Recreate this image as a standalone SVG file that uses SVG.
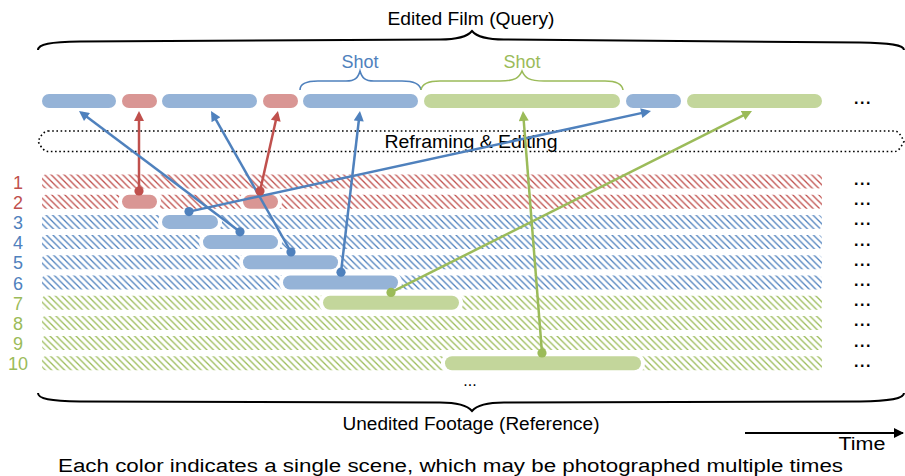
<svg xmlns="http://www.w3.org/2000/svg" width="905" height="476" viewBox="0 0 905 476">
<style>
text{font-family:"Liberation Sans","DejaVu Sans",sans-serif;}
.t{font-size:18px;fill:#000;text-anchor:middle;}
.lab{font-size:18px;text-anchor:middle;}
.dots{font-size:16px;font-weight:bold;fill:#000;text-anchor:middle;letter-spacing:1.5px;}
.red{fill:#C0504D;} .blue{fill:#4F81BD;} .green{fill:#9BBB59;}
.hr{fill:url(#hatchR);} .hb{fill:url(#hatchB);} .hg{fill:url(#hatchG);}
.pr{fill:#D99694;} .pb{fill:#95B3D7;} .pg{fill:#C3D69B;}
.pill{stroke:#fff;stroke-width:8;paint-order:stroke;}
.brace{fill:none;stroke:#000;stroke-width:2;}
.cr{stroke:#C0504D;stroke-width:2.5;fill:none;}
.cb{stroke:#4F81BD;stroke-width:2.5;fill:none;}
.cg{stroke:#9BBB59;stroke-width:2.5;fill:none;}
</style>
<defs>
<pattern id="hatchR" width="6.5" height="6.5" patternUnits="userSpaceOnUse"><path d="M0,0 L6.5,6.5 M-1,5.5 L1,7.5 M5.5,-1 L7.5,1" stroke="#C0504D" stroke-width="1.3"/></pattern>
<pattern id="hatchB" width="6.5" height="6.5" patternUnits="userSpaceOnUse"><path d="M0,0 L6.5,6.5 M-1,5.5 L1,7.5 M5.5,-1 L7.5,1" stroke="#4F81BD" stroke-width="1.3"/></pattern>
<pattern id="hatchG" width="6.5" height="6.5" patternUnits="userSpaceOnUse"><path d="M0,0 L6.5,6.5 M-1,5.5 L1,7.5 M5.5,-1 L7.5,1" stroke="#9BBB59" stroke-width="1.3"/></pattern>
<marker id="aR" viewBox="0 0 10 10" refX="7" refY="5" markerWidth="11" markerHeight="10" markerUnits="userSpaceOnUse" orient="auto"><path d="M0,0 L10,5 L0,10 Z" fill="#C0504D"/></marker>
<marker id="aB" viewBox="0 0 10 10" refX="7" refY="5" markerWidth="11" markerHeight="10" markerUnits="userSpaceOnUse" orient="auto"><path d="M0,0 L10,5 L0,10 Z" fill="#4F81BD"/></marker>
<marker id="aG" viewBox="0 0 10 10" refX="7" refY="5" markerWidth="11" markerHeight="10" markerUnits="userSpaceOnUse" orient="auto"><path d="M0,0 L10,5 L0,10 Z" fill="#9BBB59"/></marker>
<marker id="aK" viewBox="0 0 10 10" refX="9" refY="5" markerWidth="10" markerHeight="10" markerUnits="userSpaceOnUse" orient="auto"><path d="M0,0 L10,5 L0,10 Z" fill="#000"/></marker>
</defs>

<!-- Edited film -->
<g id="edited-film">
<text class="t" x="471" y="25" textLength="167" lengthAdjust="spacingAndGlyphs">Edited Film (Query)</text>
<path class="brace" d="M38,50 C38,44 50,42 80,41.5 L440,39.5 C458,39.5 467,37 472,31 C477,37 486,39.5 504,39.5 L860,42.5 C890,43 904,45 904,50"/>
</g>

<g id="shot-blue">
<text class="t" x="360" y="68" style="fill:#4F81BD">Shot</text>
<path d="M300,90 C300,83 308,81 318,81 L346,81 C355,81 358,78 360,71 C362,78 365,81 374,81 L402,81 C412,81 420,83 421,90" fill="none" stroke="#4F81BD" stroke-width="1.6"/>
</g>
<g id="shot-green">
<text class="t" x="522" y="68" style="fill:#9BBB59">Shot</text>
<path d="M421,90 C422,83 430,81 440,81 L500,81 C515,81 519,78 522,71 C525,78 529,81 544,81 L605,81 C615,81 622,83 623,90" fill="none" stroke="#9BBB59" stroke-width="1.6"/>
</g>

<g id="query-shots">
<rect class="pb" x="42" y="94" width="74" height="14" rx="7"/>
<rect class="pr" x="122" y="94" width="35" height="14" rx="7"/>
<rect class="pb" x="162" y="94" width="95" height="14" rx="7"/>
<rect class="pr" x="263" y="94" width="35" height="14" rx="7"/>
<rect class="pb" x="303" y="94" width="115" height="14" rx="7"/>
<rect class="pg" x="424" y="94" width="196" height="14" rx="7"/>
<rect class="pb" x="626" y="94" width="55" height="14" rx="7"/>
<rect class="pg" x="687" y="94" width="135" height="14" rx="7"/>
<text class="dots" x="863" y="104">...</text>
</g>

<g id="reframing">
<path d="M48,131 L895,131 Q899,131 904,141.3 Q899,151.5 895,151.5 L48,151.5 Q43,151.5 38,141.3 Q43,131 48,131 Z" fill="none" stroke="#000" stroke-width="1.6" stroke-dasharray="1.6 2.6"/>
<text class="t" x="471" y="147.5" textLength="173" lengthAdjust="spacingAndGlyphs">Reframing &amp; Editing</text>
</g>

<!-- footage rows -->
<g id="row-1"><text class="lab red" x="18" y="188.5">1</text><rect class="hr" x="42" y="174.5" width="780" height="14" rx="4"/><text class="dots" x="863" y="185">...</text></g>
<g id="row-2"><text class="lab red" x="18" y="208.7">2</text><rect class="hr" x="42" y="194.7" width="780" height="14" rx="4"/><text class="dots" x="863" y="205.2">...</text>
<rect class="pr pill" x="122" y="194.7" width="35" height="14" rx="7"/><rect class="pr pill" x="243" y="194.7" width="35" height="14" rx="7"/></g>
<g id="row-3"><text class="lab blue" x="18" y="228.9">3</text><rect class="hb" x="42" y="214.9" width="780" height="14" rx="4"/><text class="dots" x="863" y="225.4">...</text>
<rect class="pb pill" x="162" y="214.9" width="56" height="14" rx="7"/></g>
<g id="row-4"><text class="lab blue" x="18" y="249.1">4</text><rect class="hb" x="42" y="235.1" width="780" height="14" rx="4"/><text class="dots" x="863" y="245.6">...</text>
<rect class="pb pill" x="203" y="235.1" width="75" height="14" rx="7"/></g>
<g id="row-5"><text class="lab blue" x="18" y="269.3">5</text><rect class="hb" x="42" y="255.3" width="780" height="14" rx="4"/><text class="dots" x="863" y="265.8">...</text>
<rect class="pb pill" x="243" y="255.3" width="95" height="14" rx="7"/></g>
<g id="row-6"><text class="lab blue" x="18" y="289.5">6</text><rect class="hb" x="42" y="275.5" width="780" height="14" rx="4"/><text class="dots" x="863" y="286">...</text>
<rect class="pb pill" x="283" y="275.5" width="115" height="14" rx="7"/></g>
<g id="row-7"><text class="lab green" x="18" y="309.7">7</text><rect class="hg" x="42" y="295.7" width="780" height="14" rx="4"/><text class="dots" x="863" y="306.2">...</text>
<rect class="pg pill" x="323" y="295.7" width="136" height="14" rx="7"/></g>
<g id="row-8"><text class="lab green" x="18" y="329.9">8</text><rect class="hg" x="42" y="315.9" width="780" height="14" rx="4"/><text class="dots" x="863" y="326.4">...</text></g>
<g id="row-9"><text class="lab green" x="18" y="350.1">9</text><rect class="hg" x="42" y="336.1" width="780" height="14" rx="4"/><text class="dots" x="863" y="346.6">...</text></g>
<g id="row-10"><text class="lab green" x="18" y="370.3">10</text><rect class="hg" x="42" y="356.3" width="780" height="14" rx="4"/><text class="dots" x="863" y="366.8">...</text>
<rect class="pg pill" x="445" y="356.3" width="196" height="14" rx="7"/></g>

<g id="connectors">
<line class="cr" x1="139" y1="191" x2="139" y2="114" marker-end="url(#aR)"/>
<line class="cr" x1="260" y1="191" x2="277.3" y2="113.9" marker-end="url(#aR)"/>
<line class="cb" x1="189" y1="211.6" x2="648.1" y2="111.6" marker-end="url(#aB)"/>
<line class="cb" x1="240" y1="231.8" x2="81.4" y2="112.8" marker-end="url(#aB)"/>
<line class="cb" x1="291" y1="252" x2="212.5" y2="113.6" marker-end="url(#aB)"/>
<line class="cb" x1="341" y1="272.2" x2="359.6" y2="114" marker-end="url(#aB)"/>
<line class="cg" x1="391" y1="292.4" x2="749.3" y2="112.3" marker-end="url(#aG)"/>
<line class="cg" x1="542" y1="353" x2="523.2" y2="114" marker-end="url(#aG)"/>
<circle cx="139" cy="191" r="4.6" fill="#C0504D"/>
<circle cx="260" cy="191" r="4.6" fill="#C0504D"/>
<circle cx="189" cy="211.6" r="4.6" fill="#4F81BD"/>
<circle cx="240" cy="231.8" r="4.6" fill="#4F81BD"/>
<circle cx="291" cy="252" r="4.6" fill="#4F81BD"/>
<circle cx="341" cy="272.2" r="4.6" fill="#4F81BD"/>
<circle cx="391" cy="292.4" r="4.6" fill="#9BBB59"/>
<circle cx="542" cy="353" r="4.6" fill="#9BBB59"/>
</g>

<g id="unedited-footage">
<text class="dots" x="470" y="386" style="font-weight:normal;letter-spacing:0">...</text>
<path class="brace" d="M38,393 C38,399 50,401 80,401.5 L440,402.5 C458,402.5 467,405 472,411 C477,405 486,402.5 504,402.5 L860,401.5 C890,401 904,399 904,393"/>
<text class="t" x="471" y="430" textLength="257" lengthAdjust="spacingAndGlyphs">Unedited Footage (Reference)</text>
</g>

<g id="time-axis">
<line x1="745" y1="433" x2="903" y2="433" stroke="#000" stroke-width="2.2" marker-end="url(#aK)"/>
<text class="t" x="862" y="450" textLength="47" lengthAdjust="spacingAndGlyphs">Time</text>
</g>

<text class="t" x="450.5" y="472" textLength="785" lengthAdjust="spacingAndGlyphs">Each color indicates a single scene, which may be photographed multiple times</text>
</svg>
